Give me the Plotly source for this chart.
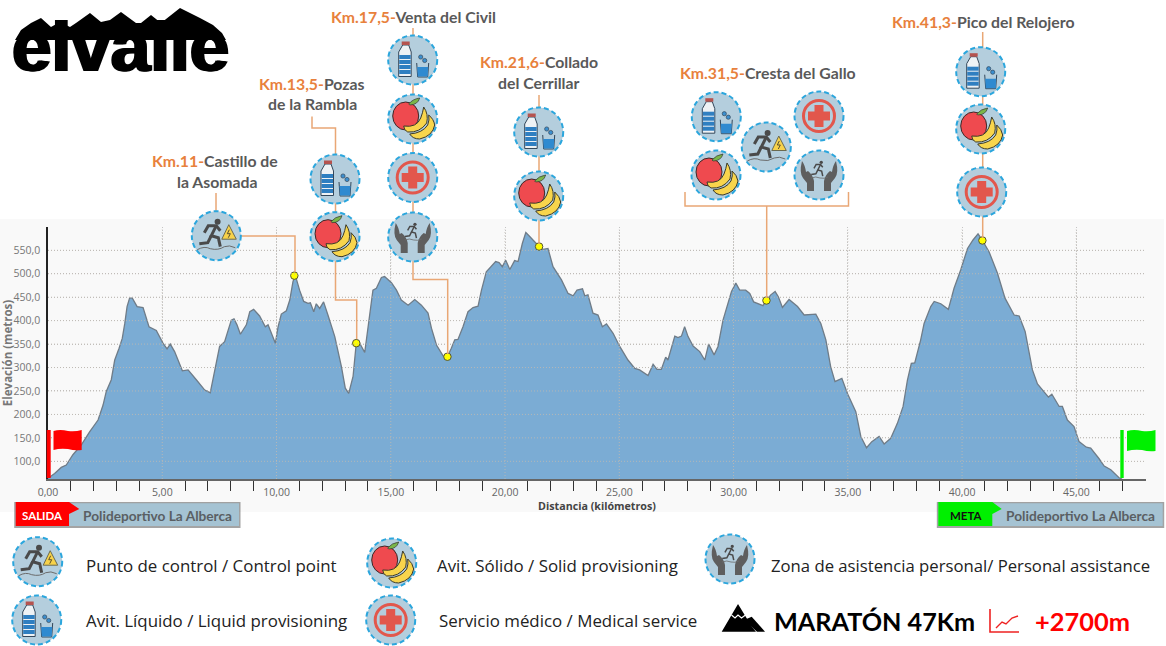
import re
import plotly.graph_objects as go

# ---------- data ----------
km = [0.00,0.29,0.58,0.80,1.09,1.46,1.82,2.19,2.41,2.55,2.77,2.92,3.11,3.25,3.36,3.46,3.57,3.69,3.90,4.16,
      4.42,4.74,5.03,5.21,5.35,5.54,5.88,6.13,6.49,6.86,7.10,7.29,7.51,7.73,8.02,8.14,8.27,8.42,8.61,8.68,
      8.83,9.00,9.26,9.51,9.63,9.77,9.95,10.07,10.21,10.43,10.58,10.72,10.82,11.01,11.19,11.38,11.48,11.63,11.74,11.89,
      12.06,12.25,12.55,12.84,13.01,13.16,13.35,13.49,13.64,13.86,14.00,14.22,14.37,14.59,14.73,15.03,15.25,15.46,15.76,16.05,
      16.34,16.63,16.78,17.00,17.29,17.48,17.65,17.80,17.94,18.16,18.38,18.60,18.82,18.97,19.18,19.40,19.59,19.74,19.88,20.03,
      20.21,20.42,20.57,20.76,20.91,21.05,21.30,21.49,21.66,21.88,22.10,22.47,22.76,22.98,23.15,23.39,23.49,23.63,23.85,24.07,
      24.26,24.44,24.73,25.02,25.38,25.68,25.89,26.26,26.48,26.65,26.84,27.03,27.13,27.43,27.57,27.72,27.86,28.01,28.23,28.52,
      28.74,28.91,29.15,29.32,29.54,29.76,29.91,30.10,30.27,30.53,30.71,30.88,31.15,31.29,31.44,31.63,31.82,31.96,32.14,32.43,
      32.80,33.09,33.60,33.82,34.04,34.25,34.44,34.74,34.98,35.35,35.57,35.82,36.05,36.37,36.59,36.88,37.17,37.42,37.61,37.78,
      37.93,38.19,38.34,38.63,38.78,39.07,39.40,39.65,39.94,40.24,40.48,40.70,40.89,41.18,41.55,41.88,42.28,42.50,42.76,42.93,
      43.08,43.30,43.52,43.78,43.93,44.25,44.39,44.61,44.90,45.12,45.44,45.63,45.99,46.22,46.51,46.87,47.00]
elevation = [64,74,87,92,114,135,163,188,220,249,274,316,341,362,394,430,448,448,430,428,
             387,379,352,340,350,334,293,295,274,252,246,295,345,355,401,404,391,371,387,391,
             419,424,410,387,391,373,352,387,414,421,444,483,497,465,441,437,438,419,436,426,
             440,412,366,302,256,245,281,352,352,332,387,465,469,492,494,481,465,444,433,445,
             433,416,384,348,325,323,341,359,360,387,419,428,431,465,504,515,526,524,515,529,
             509,528,526,565,588,581,568,558,552,554,515,487,458,453,465,468,453,455,416,412,
             387,393,373,345,316,298,295,283,307,296,296,322,316,367,364,367,387,366,346,334,
             316,350,327,345,401,437,462,480,465,465,458,440,435,432,443,455,462,451,428,445,
             430,412,414,394,359,302,270,277,245,206,153,129,142,153,137,149,181,217,273,309,
             310,359,394,430,441,436,424,469,508,554,572,585,571,547,501,448,412,410,377,337,
             295,265,252,237,243,217,217,188,174,142,130,128,106,90,82,65,62]

stop_km = [10.78, 13.49, 17.48, 21.49, 31.44, 40.89]
stop_elev = [496, 352, 323, 558, 443, 571]

y_ticks = [100,150,200,250,300,350,400,450,500,550]
y_labels = ["100,0","150,0","200,0","250,0","300,0","350,0","400,0","450,0","500,0","550,0"]
x_ticks = [0,5,10,15,20,25,30,35,40,45]
x_labels = ["0,00","5,00","10,00","15,00","20,00","25,00","30,00","35,00","40,00","45,00"]
x_minor = [k for k in range(1,48) if k % 5]

stop_titles = [("Km.17,5-","Venta del Civil",413.5,17),("Km.13,5-","Pozas",312,83),("","de la Rambla",312,104),
               ("Km.11-","Castillo de",215,160.5),("","la Asomada",216.5,181.5),("Km.21,6-","Collado",539,61.5),
               ("","del Cerrillar",539,82.5),("Km.31,5-","Cresta del Gallo",768,72),("Km.41,3-","Pico del Relojero",982.5,21)]
legend_items = [("Punto de control / Control point",84.5,565,16.9),("Avit. Líquido / Liquid provisioning",84.5,620,16.9),
                ("Avit. Sólido / Solid provisioning",436,565,16.9),("Servicio médico / Medical service",438,620,16.9),
                ("Zona de asistencia personal/ Personal assistance",769.5,565,16.7)]

# ---------- page geometry ----------
W,H = 1166,646
L,R,T,B = 48,20,227,167
PW,PH = W-L-R, H-T-B
def fx(px): return (px-L)/PW
def fy(py): return 1-(py-T)/PH

shapes, notes = [], []
def path(d, ox=0, oy=0, s=1.0, fill=None, line=None, w=1, layer="above", dash=None):
    toks = re.findall(r"[A-Za-z]|-?\d+\.?\d*", d)
    out, i = [], 0
    while i < len(toks):
        t = toks[i]
        if t.isalpha():
            out.append(t); i += 1
        else:
            out.append(f"{fx(ox+s*float(t)):.5f},{fy(oy+s*float(toks[i+1])):.5f}"); i += 2
    shapes.append(dict(type="path", path=" ".join(out), xref="paper", yref="paper", layer=layer,
                       fillcolor=fill or "rgba(0,0,0,0)",
                       line=dict(color=line or "rgba(0,0,0,0)", width=w if line else 0, dash=dash or "solid")))
def circ(cx, cy, r, fill=None, line=None, w=1, dash=None, ry=None):
    ry = ry or r
    shapes.append(dict(type="circle", xref="paper", yref="paper", x0=fx(cx-r), x1=fx(cx+r), y0=fy(cy+ry), y1=fy(cy-ry),
                       fillcolor=fill or "rgba(0,0,0,0)",
                       line=dict(color=line or "rgba(0,0,0,0)", width=w if line else 0, dash=dash or "solid")))
def rect(x0,y0,x1,y1,fill,layer="above"):
    shapes.append(dict(type="rect", xref="paper", yref="paper", x0=fx(x0), x1=fx(x1), y0=fy(y1), y1=fy(y0),
                       fillcolor=fill, line=dict(width=0), layer=layer))
def text(t,x,y,size,color,font="Lato",anchor="center",bold=False,angle=0):
    notes.append(dict(text=f"<b>{t}</b>" if bold else t, x=fx(x), y=fy(y), xref="paper", yref="paper",
                      xanchor=anchor, yanchor="middle", showarrow=False, borderpad=0, textangle=angle,
                      font=dict(family=font,size=size,color=color)))

BASE = "#b4cedd"
def badge(cx,cy):
    circ(cx,cy,24.5,fill=BASE,line="#2ba6dd",w=2,dash="5px,3px")
def bottle(cx,cy):
    badge(cx,cy)
    path("M -10 -15 L -4 -15 L -1.5 -8 L -1.5 16.5 L -14 16.5 L -14 -8 Z",cx,cy,fill="#eef2f5",line="#33475a",w=1)
    rect(cx-11,cy-18.5,cx-3,cy-15,"#b5534f")
    for a in (-5,0,5,10):
        rect(cx-13.5,cy+a,cx-2,cy+a+4,"#2f7fc1")
    path("M 4 3 L 5 17 L 15 17 L 16 3",cx,cy,line="#33475a",w=1)
    path("M 4.5 7 L 15.5 7 L 15 16.5 L 5 16.5 Z",cx,cy,fill="#2f8ad0")
    circ(cx+8,cy-3,2.1,fill="#3b8fcf",line="#33475a",w=.7)
    circ(cx+12,cy+0.5,2.1,fill="#3b8fcf",line="#33475a",w=.7)
def fruit(cx,cy):
    badge(cx,cy)
    circ(cx-7,cy-3,13,ry=14,fill="#ef4a4f",line="#3a2a2a",w=1)
    path("M -4 -15 Q 0 -20 7 -21 Q 5 -14 -3 -14 Z",cx,cy,fill="#7ab648",line="#333333",w=.7)
    path("M -9 7 Q 4 9 8 -1 Q 10 -6 11 -12 Q 16 -5 14 4 Q 7 14 -5 13 Q -9 11 -9 7 Z",cx,cy,fill="#f8d54c",line="#3a3a2a",w=1)
    path("M -3 15 Q 10 14 15 6 Q 17 1 16 -4 Q 21 0 22 6 Q 20 17 7 20 Q 0 20 -3 15 Z",cx,cy,fill="#f8d54c",line="#3a3a2a",w=1)
def cross(cx,cy):
    badge(cx,cy)
    circ(cx,cy,15.5,line="#e2574c",w=3)
    path("M -4.5 -11 L 4.5 -11 L 4.5 -4.5 L 11 -4.5 L 11 4.5 L 4.5 4.5 L 4.5 11 L -4.5 11 L -4.5 4.5 L -11 4.5 L -11 -4.5 L -4.5 -4.5 Z",cx,cy,fill="#e2574c")
def figure(cx,cy,s=1.0,w=3,c="#4a4a4a"):
    circ(cx+2.3*s,cy-14*s,3*s,fill=c)
    path("M -11 -3 L -7 -10 L 1 -10 L 5 -5",cx,cy,s,line=c,w=w)
    path("M 1 -10 L -4 0 L 3 2 L 5 11",cx,cy,s,line=c,w=w)
    path("M -4 0 L -7.5 7 L -16 8",cx,cy,s,line=c,w=w)
def runner(cx,cy):
    badge(cx,cy)
    figure(cx-1,cy)
    path("M -19 14 Q -12 10 -6 13 Q 2 15 8 11 Q 13 9 19 12",cx,cy,line="#6b6b6b",w=1)
    path("M 12.5 -11 L 20 3.5 L 5.5 3.5 Z",cx,cy,fill="#f7d24a",line="#6a6a50",w=1)
    path("M 13 -6 L 11 -2 L 14 -2 L 12 2",cx,cy,line="#5a5030",w=1)
def hands(cx,cy):
    badge(cx,cy)
    path("M -17 -14 Q -20 -2 -16 3 L -12 8 L -12 16 L -5 16 L -5 6 Q -6 0 -11 -4 L -13 -3 Q -14 -10 -17 -14 Z",cx,cy,fill="#5e5e5e")
    path("M 17 -14 Q 20 -2 16 3 L 12 8 L 12 16 L 5 16 L 5 6 Q 6 0 11 -4 L 13 -3 Q 14 -10 17 -14 Z",cx,cy,fill="#5e5e5e")
    figure(cx+1,cy-5,.55,1.5)
    path("M -8 3 Q -3 1 1 3 Q 5 4 9 2",cx,cy,line="#6b6b6b",w=.8)

# ---------- background band ----------
rect(0,219,1164,512,"#f9f9f9",layer="below")

# ---------- gridlines over the area ----------
GRID_DASH = "1px,2px"
for v in y_ticks:
    shapes.append(dict(type="line",xref="paper",yref="y",x0=0,x1=1,y0=v,y1=v,layer="above",
                       line=dict(color="rgba(190,185,178,0.85)",width=1,dash=GRID_DASH)))
for v in x_ticks[1:]:
    shapes.append(dict(type="line",xref="x",yref="paper",x0=v,x1=v,y0=0,y1=0.99,layer="above",
                       line=dict(color="rgba(190,185,178,0.85)",width=1,dash=GRID_DASH)))

# ---------- connectors ----------
CON = "#e9a775"
for d in ["M 216 193 L 216 212","M 240 236 L 295 236 L 295 272",
          "M 312 116.5 L 312 128 L 335.5 128 L 335.5 156","M 335.5 260 L 335.5 300 L 356.7 300 L 356.7 339",
          "M 413 28 L 413 38","M 413 82 L 413 96","M 413 141 L 413 155","M 413 200 L 413 215",
          "M 413 260 L 413 279.5 L 447.7 279.5 L 447.7 354","M 335.5 202 L 335.5 214",
          "M 539 95 L 539 110","M 539 155 L 539 173","M 539 218 L 539 244",
          "M 685 192 L 685 206 L 848.5 206 L 848.5 192","M 766.7 206 L 766.7 298",
          "M 982.7 32 L 982.7 48","M 982.7 94 L 982.7 106","M 982.7 152 L 982.7 168","M 982.7 215 L 982.7 238"]:
    path(d,line=CON,w=1.5)

# ---------- icons on the profile ----------
for f,cx,cy in [(runner,216.3,235.7),(bottle,335,179),(fruit,335,236.7),(bottle,412.7,60),(fruit,412.7,119),
                (cross,412.7,177.5),(hands,412.7,237),(bottle,538.7,132),(fruit,538.7,196),(bottle,716.3,116.7),
                (fruit,716,175),(runner,766.3,147),(cross,819,116),(hands,819,175),(bottle,980.7,71.7),
                (fruit,980.7,129),(cross,981.7,192),
                (runner,37.7,561.7),(bottle,36.7,620),(fruit,391.7,563),(cross,390.7,620),(hands,730,559)]:
    f(cx,cy)

# ---------- flags ----------
rect(46.7,430,50.7,478,"#ff0000")
path("M 53.5 431 Q 60 429 68 431 Q 75 432 81.7 430 L 81.7 450 Q 75 451 68 449 Q 60 448 53.5 450 Z",fill="#ff0000")
rect(1120.3,430,1123.7,478,"#00f000")
path("M 1127 431 Q 1134 429 1142 431 Q 1149 432 1155.5 430 L 1155.5 451 Q 1149 452 1142 450 Q 1134 449 1127 451 Z",fill="#00f000")

# ---------- start / finish plates ----------
for x0,x1,c,xe,xt in [(15.7,239,"#ff0000",69,79.3),(938.3,1162.7,"#00f000",992.3,1001.7)]:
    rect(x0-1.5,502,x1+1.5,528,"rgba(90,90,90,0.55)")
    rect(x0,503.3,x1,526,"#a5c3d3")
    path(f"M {x0} 502 L {xe} 502 L {xt} 509 L {xe} 514 L {xe} 526 L {x0} 526 Z",fill=c)
text("SALIDA",42.5,515,11.5,"#ffffff",bold=True)
text("Polideportivo La Alberca",157,515,13.7,"#5a5f63",bold=True)
text("META",966,515,11.5,"#111111",bold=True)
text("Polideportivo La Alberca",1080.5,515,13.7,"#5a5f63",bold=True)

# ---------- stop titles ----------
for a,b,x,y in stop_titles:
    t = (f'<span style="color:#e8813c">{a}</span>' if a else "") + f'<span style="color:#595959">{b}</span>'
    text(t,x,y,15.8,"#595959",bold=True)

# ---------- legend ----------
for t,x,y,sz in legend_items:
    text(t,x,y,sz,"#222222",font="Open Sans",anchor="left")

# ---------- race summary ----------
path("M 721.7 631.7 L 738 604 L 752 627 L 756 631.7 Z",fill="#000000")
path("M 731.5 615 L 735 618 L 738 615 L 741.5 618 L 745.5 615",line="#ffffff",w=1.2)
path("M 744 620 L 751.7 616.7 L 765 631.7 L 757 631.7 Z",fill="#000000")
text("MARATÓN 47Km",773,620.5,25.2,"#000000",anchor="left",bold=True)
text("+2700m",1034,620.5,25.4,"#ff0000",anchor="left",bold=True)
path("M 990 609 L 990 632 L 1019 632",line="#ee2222",w=1.6)
path("M 996 628 L 1002 622 L 1006 624 L 1012 618 L 1018 616",line="#ee2222",w=1.4)

# ---------- logo ----------
path("M 15 40 L 21 30 L 31 23 L 41 18 L 51 27 L 60 22 L 70 27 L 76 23 L 90 13 L 101 22 L 110 20 L 121 12 "
     "L 136 23 L 141 23 L 151 15 L 161 23 L 180 8 L 200 18 L 213 25 L 222 33 L 226 40 Z",fill="#000000")
notes.append(dict(text="<b>elvalle</b>",x=fx(120.5),y=fy(47),xref="paper",yref="paper",xanchor="center",yanchor="middle",
                  showarrow=False,borderpad=0,
                  font=dict(family="Liberation Sans",size=71,color="#000000",shadow="1.5px 0 0 #000, -1.5px 0 0 #000")))

# ---------- figure ----------
fig = go.Figure()
fig.add_trace(go.Scatter(x=km,y=elevation,mode="lines",fill="tozeroy",fillcolor="#7bacd4",
                         line=dict(color="#6f7c88",width=1.3),showlegend=False,hoverinfo="skip"))
fig.add_trace(go.Scatter(x=stop_km,y=stop_elev,mode="markers",
                         marker=dict(size=7.5,color="#ffff00",line=dict(color="#555533",width=1)),showlegend=False))
fig.update_layout(
    width=W,height=H,margin=dict(l=L,r=R,t=T,b=B,pad=0,autoexpand=False),paper_bgcolor="#ffffff",plot_bgcolor="rgba(0,0,0,0)",
    showlegend=False,shapes=shapes,annotations=notes,font=dict(family="Open Sans"),
    xaxis=dict(range=[0,48.05],automargin=False,tickmode="array",tickvals=x_ticks,ticktext=x_labels,ticks="outside",ticklen=0,
               tickfont=dict(family="Open Sans",size=10.5,color="#666666"),ticklabelstandoff=3,
               showgrid=True,gridcolor="#c4c4c4",griddash=GRID_DASH,zeroline=False,showline=True,linecolor="#666666",linewidth=1.5,
               minor=dict(tickmode="array",tickvals=x_minor,ticks="outside",ticklen=10,tickcolor="#333333",tickwidth=1,showgrid=False),
               title=dict(text="<b>Distancia (kilómetros)</b>",font=dict(family="Open Sans",size=10.7,color="#444444"),standoff=1)),
    yaxis=dict(range=[62.3,599.7],automargin=False,tickmode="array",tickvals=y_ticks,ticktext=y_labels,ticks="",
               tickfont=dict(family="Open Sans",size=10.5,color="#777777"),ticklabelstandoff=4,
               showgrid=True,gridcolor="#c4c4c4",griddash=GRID_DASH,zeroline=False,showline=True,linecolor="#222222",linewidth=1.5,
               title=dict(text="<b>Elevación (metros)</b>",font=dict(family="Open Sans",size=11.5,color="#777777"),standoff=0)),
)
fig.write_html("out.html",config=dict(displayModeBar=False),
               post_script="document.documentElement.style.margin='0';document.body.style.margin='0';document.body.style.padding='0';"
                           "var d=document.querySelector('.plotly-graph-div');d.style.position='absolute';d.style.left='0px';d.style.top='0px';")
